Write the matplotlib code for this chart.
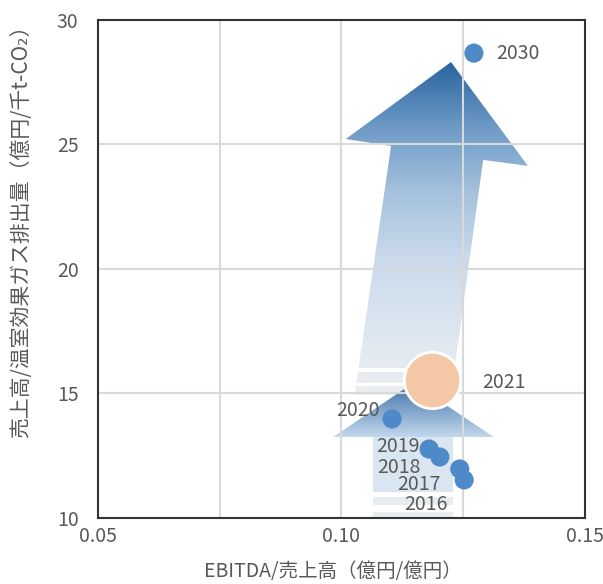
import numpy as np
import matplotlib
matplotlib.use("Agg")
import matplotlib.pyplot as plt
from matplotlib.colors import LinearSegmentedColormap
from matplotlib.patches import Polygon, Rectangle

plt.rcParams['font.family'] = ['Noto Sans CJK JP', 'DejaVu Sans']

# データ
years = ["2016", "2017", "2018", "2019", "2020", "2030"]
ebitda = [0.1252, 0.1243, 0.1202, 0.1180, 0.1104, 0.1272]
sales_ghg = [11.53, 11.97, 12.45, 12.77, 13.98, 28.67]
year_now = "2021"
ebitda_now = 0.1186
sales_ghg_now = 15.54

# ラベル位置のずれ(ポイント)
lab_off = {"2016": (-12, -17.5), "2017": (-14, -11.5), "2018": (-14, -7.5),
           "2019": (-7, 2), "2020": (-9, 6), "2030": (16, 0)}

txt = '#595959'
fig = plt.figure(figsize=(6.03, 5.84), dpi=100)
ax = fig.add_axes([0.1625, 0.113, 0.8075, 0.8528])
ax.set_xlim(0.05, 0.15)
ax.set_ylim(10, 30)
ax.set_xticks([0.05, 0.075, 0.10, 0.125, 0.15])
ax.set_xticklabels(["0.05", "", "0.10", "", "0.15"])
ax.set_yticks([10, 15, 20, 25, 30])
ax.grid(True, color='#d9d9d9', lw=1.5)
ax.set_axisbelow(True)
ax.tick_params(length=0, labelsize=14, labelcolor=txt)
ax.tick_params(axis='y', pad=14)
ax.tick_params(axis='x', pad=6)
for s in ax.spines.values():
    s.set_color('#333333')
    s.set_linewidth(1.5)
ax.set_xlabel("EBITDA/売上高（億円/億円）", fontsize=14, color=txt, va='center')
ax.xaxis.set_label_coords(0.483, -0.108)
ax.set_ylabel("売上高/温室効果ガス排出量（億円/千t-CO₂）", fontsize=15, color=txt, va='center')
ax.yaxis.set_label_coords(-0.158, 0.585)


def grad_poly(verts, y0, y1, colors, z):
    poly = Polygon(verts, closed=True, facecolor='none', edgecolor='none')
    ax.add_patch(poly)
    cmap = LinearSegmentedColormap.from_list('g', colors)
    xs = [v[0] for v in verts]
    g = np.linspace(0, 1, 256).reshape(-1, 1)
    im = ax.imshow(g, cmap=cmap, origin='lower', aspect='auto',
                   extent=[min(xs), max(xs), y0, y1], zorder=z)
    im.set_clip_path(poly)
    return poly


# 上の矢印
up = [(0.1225, 28.31), (0.1383, 24.14), (0.1291, 24.38), (0.1225, 14.94),
      (0.1027, 14.94), (0.1102, 24.94), (0.1009, 25.22)]
p_up = grad_poly(up, 14.94, 28.31,
                 ['#eceef1', '#dce6f0', '#cbdbec', '#a8c3de', '#6f9bc6', '#2a64a0'], 0.1)
for a, b in [(15.86, 16.02), (15.30, 15.42)]:
    r = Rectangle((0.10, a), 0.03, b - a, facecolor='white', edgecolor='none', zorder=0.15)
    ax.add_patch(r)
    r.set_clip_path(p_up)

# 下の矢印
head = [(0.1147, 15.42), (0.1313, 13.25), (0.0983, 13.25)]
grad_poly(head, 13.25, 15.42, ['#c2d7ec', '#3b6fa6'], 0.3)
ax.add_patch(Rectangle((0.1065, 11.04), 0.0164, 13.25 - 11.04,
                       facecolor='#d9e6f2', edgecolor='none', zorder=0.3))
for a, b in [(10.52, 10.84), (10.0, 10.24)]:
    ax.add_patch(Rectangle((0.1065, a), 0.0164, b - a,
                           facecolor='#e9ecef', edgecolor='none', zorder=0.3))

# 点
ax.scatter(ebitda, sales_ghg, s=190, color='#4e8ac8', edgecolor='none', zorder=3, clip_on=False)
ax.scatter([ebitda_now], [sales_ghg_now], s=1650, color='#f4c7a7',
           edgecolor='white', linewidth=2, zorder=4)

for x, y, t in zip(ebitda, sales_ghg, years):
    dx, dy = lab_off[t]
    ax.annotate(t, (x, y), xytext=(dx, dy), textcoords='offset points',
                ha='left' if dx > 0 else 'right', va='center',
                fontsize=14, color=txt, zorder=5)
ax.annotate(year_now, (ebitda_now, sales_ghg_now), xytext=(36, -1.5), textcoords='offset points',
            ha='left', va='center', fontsize=14, color=txt, zorder=5)

fig.savefig("out.png", dpi=100)
